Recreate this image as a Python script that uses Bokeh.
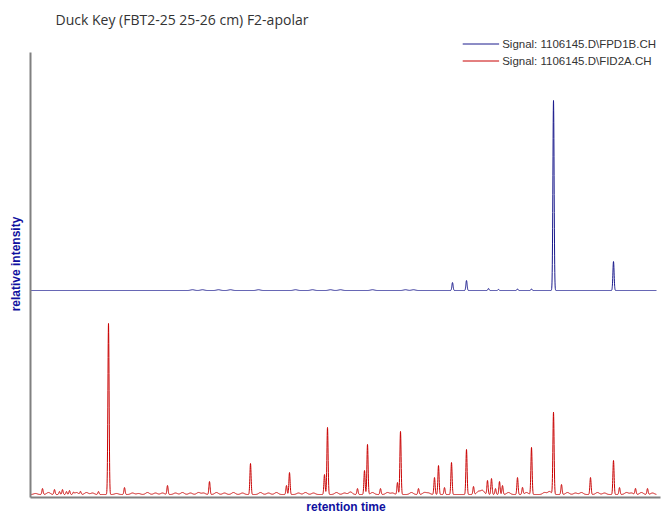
import numpy as np
from bokeh.plotting import figure
from bokeh.models import Range1d, FixedTicker, Legend, LegendItem
from bokeh.embed import file_html
from bokeh.resources import INLINE

# Chromatogram peak tables: retention time (min) and height (relative units)
fid_peak_times = [1.2, 2.4, 2.9, 3.2, 3.6, 3.9, 4.3, 5.0, 6.8, 7.8, 9.4, 13.7, 17.9,
                  22.0, 25.6, 25.9, 29.4, 29.7, 32.7, 33.4, 33.7, 35.0, 36.7, 37.0,
                  38.8, 40.4, 40.8, 41.4, 42.1, 43.6, 44.3, 45.7, 46.1, 46.5, 46.9,
                  47.2, 48.7, 49.2, 50.1, 52.3, 53.1, 56.0, 58.3, 58.9, 60.5, 61.7]
fid_peak_heights = [6, 5, 3, 5, 3, 4, 2, 3, 3, 171, 7, 9, 13,
                    31, 9, 22, 20, 67, 6, 24, 50, 6, 12, 63,
                    6, 17, 29, 7, 32, 45, 8, 14, 16, 6, 13,
                    9, 17, 7, 47, 82, 10, 17, 34, 7, 6, 6]

# Small baseline humps of the FID trace
fid_hump_times = [0.5, 1.8, 4.6, 5.6, 6.2, 8.6, 10.2, 10.8, 11.7, 12.5, 13.2, 14.5,
                  15.2, 16.0, 16.8, 17.3, 18.6, 19.4, 20.3, 21.2, 23.0, 23.8, 24.6,
                  26.8, 27.5, 28.3, 30.6, 31.4, 32.0, 34.2, 35.7, 36.2, 38.1, 39.4,
                  39.8, 44.8, 45.2, 47.8, 49.6, 51.4, 51.9, 53.7, 54.5, 55.1, 56.7,
                  57.4, 59.6, 60.1, 61.1, 62.2]
fid_hump_heights = [1, 2, 2, 2, 1.5, 1, 1.5, 1, 2, 1.5, 1.5, 1.5,
                    2, 1.5, 2, 1.5, 2, 1.5, 2, 1.5, 2, 1.5, 2,
                    1.5, 2, 1.5, 2, 1.5, 2.5, 2, 2, 1.5, 2, 2,
                    1.5, 3, 4, 2, 2, 2, 3, 2, 1.5, 2, 2,
                    1.5, 2, 1.5, 2, 1.5]

fpd_peak_times = [42.2, 43.6, 45.8, 46.8, 48.7, 50.1, 52.3, 58.3]
fpd_peak_heights = [8, 10, 2, 1, 1.5, 1.5, 190, 29]
fpd_hump_times = [16.2, 17.2, 18.8, 20.0, 22.8, 26.5, 28.2, 30.0, 31.0, 34.2, 37.5, 38.3]
fpd_hump_heights = [0.8, 0.8, 0.8, 0.8, 0.8, 0.8, 0.8, 0.8, 0.8, 0.8, 0.8, 0.8]

fpd_offset = 204  # vertical offset of the FPD trace above the FID trace
run_end = 62.6    # end of the recorded run (min)

t = np.arange(0.0, run_end, 0.01)


def trace(times, heights, width, hump_times, hump_heights):
    y = np.zeros_like(t)
    for c, h in zip(times, heights):
        y += h * np.exp(-0.5 * ((t - c) / width) ** 2)
    for c, h in zip(hump_times, hump_heights):
        y += h * np.exp(-0.5 * ((t - c) / 0.18) ** 2)
    return y


fid = trace(fid_peak_times, fid_peak_heights, 0.06, fid_hump_times, fid_hump_heights)
fpd = trace(fpd_peak_times, fpd_peak_heights, 0.06, fpd_hump_times, fpd_hump_heights) + fpd_offset

p = figure(width=661, height=517, output_backend="svg", toolbar_location=None,
           x_range=Range1d(0, 63.1), y_range=Range1d(-3, 464),
           min_border_left=30, min_border_right=0, min_border_top=30,
           min_border_bottom=20, background_fill_color="white",
           border_fill_color="white", outline_line_color=None)

p.title.text = "Duck Key (FBT2-25 25-26 cm) F2-apolar"
p.title.text_font = "Open Sans"
p.title.text_font_size = "14px"
p.title.text_font_style = "normal"
p.title.text_color = "#333333"
p.title.offset = 25
p.title.standoff = 4

p.grid.visible = False

for ax in (p.xaxis[0], p.yaxis[0]):
    ax.ticker = FixedTicker(ticks=[])
    ax.major_tick_line_color = None
    ax.minor_tick_line_color = None
    ax.major_tick_out = 0
    ax.major_label_standoff = 0
    ax.major_label_text_font_size = "0px"
    ax.axis_line_color = "#808080"
    ax.axis_line_width = 2
    ax.axis_label_text_font = "Liberation Sans"
    ax.axis_label_text_font_size = "12px"
    ax.axis_label_text_font_style = "bold"
    ax.axis_label_text_color = "#1010a0"

p.xaxis.axis_label = "retention time"
p.xaxis.axis_label_standoff = 2
p.xaxis.bounds = (0, 63.0)
p.yaxis.axis_label = "relative intensity"
p.yaxis.axis_label_standoff = 8
p.yaxis.bounds = (-3, 442)

r_fpd = p.line(t, fpd, line_color="#1a1a8c", line_width=1)
r_fid = p.line(t, fid, line_color="#c80000", line_width=1)

legend = Legend(items=[
    LegendItem(label="Signal: 1106145.D\\FPD1B.CH", renderers=[r_fpd]),
    LegendItem(label="Signal: 1106145.D\\FID2A.CH", renderers=[r_fid]),
], location="top_right")
legend.border_line_color = None
legend.background_fill_alpha = 0
legend.margin = 5
legend.padding = 17
legend.spacing = 0
legend.glyph_width = 37
legend.glyph_height = 17
legend.label_height = 17
legend.label_standoff = 3
legend.label_text_font = "Liberation Sans"
legend.label_text_font_size = "11.5px"
legend.label_text_color = "#333333"
p.add_layout(legend)

open("out.html", "w").write(file_html(p, INLINE))
